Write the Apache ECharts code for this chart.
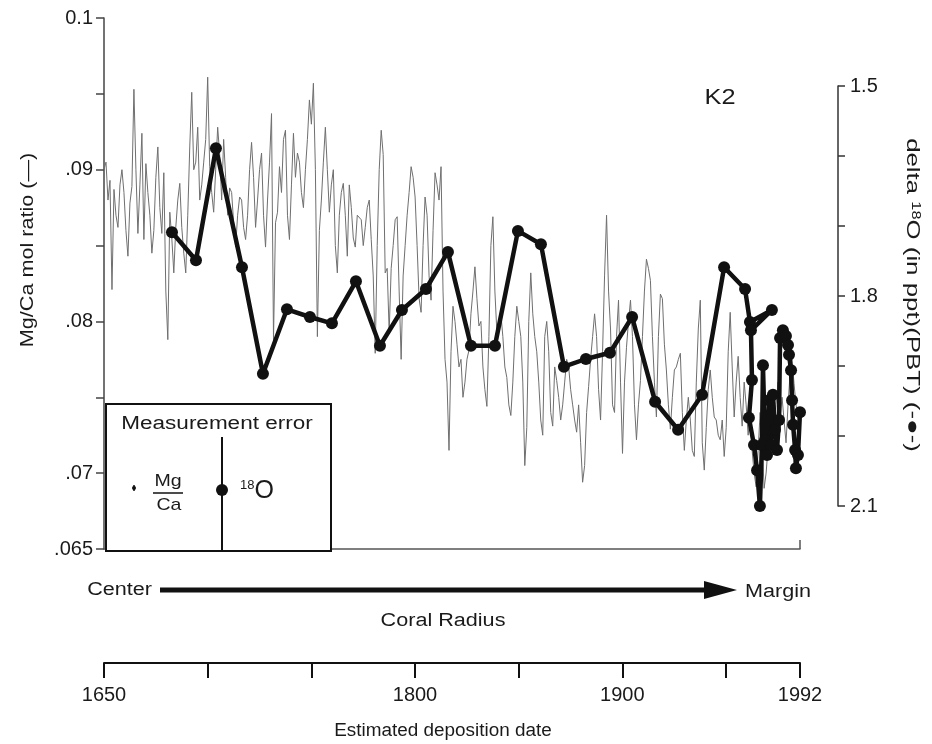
<!DOCTYPE html>
<html>
<head>
<meta charset="utf-8">
<title>K2 coral: Mg/Ca and delta 18O</title>
<script src="https://cdn.jsdelivr.net/npm/echarts@6.0.0/dist/echarts.min.js"></script>
<style>
  html, body { margin: 0; padding: 0; background: #fff; }
  #main { width: 932px; height: 744px; }
</style>
</head>
<body>
<div id="main"></div>
<script>
// Mg/Ca samples, evenly spaced along the coral radius from 1650 to 1992
var mgStart = 1650, mgEnd = 1992;
var mgValues = [
  .0900, .0905, .0880, .0893, .0821, .0887, .0870, .0862, .0890, .0900,
  .0885, .0860, .0843, .0878, .0889, .0953, .0900, .0858, .0890, .0924,
  .0854, .0904, .0885, .0870, .0845, .0860, .0895, .0915, .0875, .0858,
  .0898, .0820, .0788, .0872, .0855, .0832, .0862, .0880, .0891, .0862,
  .0845, .0832, .0870, .0915, .0951, .0900, .0905, .0928, .0880, .0890,
  .0905, .0920, .0961, .0902, .0885, .0872, .0900, .0928, .0910, .0880, .0920,
  .0895, .0870, .0888, .0885, .0865, .0849, .0870, .0882, .0880, .0862,
  .0854, .0870, .0900, .0918, .0895, .0862, .0880, .0900, .0911, .0870,
  .0849, .0880, .0905, .0937, .0788, .0865, .0872, .0902, .0885, .0920,
  .0926, .0870, .0854, .0890, .0924, .0895, .0911, .0905, .0885, .0875,
  .0900, .0920, .0946, .0930, .0957, .0900, .0790, .0860, .0880, .0905,
  .0928, .0900, .0872, .0890, .0900, .0850, .0832, .0870, .0885, .0891,
  .0870, .0843, .0890, .0875, .0855, .0849, .0870, .0869, .0867, .0850,
  .0862, .0875, .0880, .0854, .0830, .0779, .0850, .0900, .0926, .0910,
  .0832, .0835, .0793, .0835, .0850, .0867, .0869, .0820, .0775, .0830,
  .0850, .0870, .0885, .0902, .0895, .0882, .0850, .0815, .0806, .0850,
  .0882, .0870, .0830, .0814, .0860, .0898, .0890, .0880, .0902, .0820,
  .0775, .0760, .0715, .0780, .0810, .0800, .0785, .0770, .0775, .0750,
  .0760, .0775, .0781, .0805, .0820, .0836, .0815, .0797, .0800, .0770,
  .0755, .0744, .0790, .0850, .0869, .0820, .0793, .0800, .0805, .0790,
  .0770, .0763, .0745, .0738, .0760, .0790, .0810, .0800, .0790, .0760,
  .0705, .0730, .0800, .0832, .0805, .0790, .0780, .0760, .0735, .0725,
  .0790, .0800, .0780, .0740, .0731, .0770, .0761, .0750, .0735, .0745,
  .0760, .0775, .0770, .0755, .0745, .0735, .0727, .0745, .0720, .0694,
  .0705, .0740, .0757, .0775, .0790, .0805, .0790, .0755, .0735, .0780,
  .0830, .0870, .0820, .0795, .0745, .0740, .0790, .0814, .0760, .0713,
  .0760, .0783, .0800, .0814, .0790, .0745, .0722, .0745, .0761, .0790,
  .0820, .0841, .0835, .0827, .0790, .0760, .0737, .0790, .0818, .0815,
  .0785, .0768, .0745, .0729, .0750, .0768, .0770, .0775, .0779, .0740,
  .0715, .0735, .0750, .0735, .0715, .0711, .0760, .0795, .0814, .0720,
  .0702, .0730, .0755, .0768, .0750, .0737, .0735, .0725, .0722, .0735,
  .0711, .0730, .0780, .0806, .0770, .0737, .0760, .0777, .0750, .0731,
  .0760, .0745, .0725, .0740, .0715, .0700, .0691, .0715, .0740, .0720,
  .0690, .0700, .0717, .0740, .0755, .0730, .0745, .0760, .0735, .0750,
  .0735, .0720, .0745, .0765, .0775, .0759, .0745, .0737, .0727
];

// delta 18O samples (in ppt, PBT)
var d18Years = [
  1683.4, 1695.2, 1705.0, 1717.8, 1728.1, 1739.9, 1751.2, 1762.0, 1773.8, 1785.6,
  1796.4, 1808.2, 1819.0, 1830.3, 1842.1, 1853.4, 1864.7, 1876.0, 1886.8, 1898.6,
  1909.5, 1920.8, 1932.1, 1943.9, 1954.7, 1965.0, 1967.4, 1978.2, 1967.9, 1968.4,
  1966.9, 1969.4, 1970.9, 1972.3, 1973.3, 1973.8, 1974.8, 1975.8, 1976.8, 1977.8,
  1978.7, 1979.7, 1980.7, 1981.7, 1982.2, 1983.6, 1985.1, 1986.1, 1986.6, 1987.6,
  1988.1, 1988.6, 1989.6, 1990.0, 1991.0, 1992.0
];
var d18Values = [
  1.709, 1.749, 1.589, 1.759, 1.911, 1.819, 1.830, 1.839, 1.779, 1.871,
  1.820, 1.790, 1.737, 1.871, 1.871, 1.707, 1.726, 1.901, 1.890, 1.881,
  1.830, 1.951, 1.991, 1.941, 1.759, 1.790, 1.837, 1.820, 1.849, 1.920,
  1.974, 2.013, 2.049, 2.100, 2.013, 1.899, 2.006, 2.027, 1.949, 2.013,
  1.941, 1.991, 2.020, 1.977, 1.860, 1.849, 1.857, 1.870, 1.884, 1.906,
  1.949, 1.984, 2.020, 2.046, 2.027, 1.966
];

var mgTickValues = [0.065, 0.07, 0.08, 0.09, 0.1];
var mgTickLabels = ['.065', '.07', '.08', '.09', '0.1'];
var d18TickValues = [1.5, 1.8, 2.1];
// the date scale is drawn in two pieces, as in the original figure
var dateTickLabels = [1650, 1800, 1900];
var dateEndTick = [1992];

var FONT = "'Liberation Sans', Arial, Helvetica, sans-serif";

var mgData = mgValues.map(function(v, i) {
  return [mgStart + i * (mgEnd - mgStart) / (mgValues.length - 1), v];
});
var d18Data = d18Years.map(function(y, i) {
  return [y, d18Values[i]];
});

function pickLabel(values, labels, v) {
  for (var i = 0; i < values.length; i++) {
    if (Math.abs(values[i] - v) < 1e-6) return labels[i];
  }
  return '';
}

function txt(text, x, y, size, extra) {
  var el = {
    type: 'text', x: x, y: y, z: 30,
    style: {
      text: text, fontSize: size, fontFamily: FONT, fill: '#1a1a1a',
      align: 'center', verticalAlign: 'middle'
    }
  };
  if (extra) {
    for (var k in extra) {
      if (k === 'style') {
        for (var s in extra.style) el.style[s] = extra.style[s];
      } else el[k] = extra[k];
    }
  }
  return el;
}

var dateLine = { show: true, onZero: false, lineStyle: { color: '#111', width: 2 } };
var dateLabel = { margin: 22, fontSize: 20, color: '#1a1a1a', fontFamily: FONT };

var option = {
  animation: false,
  backgroundColor: '#fff',
  grid: [
    { left: 104, top: 18, width: 696, height: 531 },
    { left: 104, top: 86, width: 696, height: 420 },
    { left: 104, top: 600, width: 622, height: 63 },
    { left: 726, top: 600, width: 74, height: 63 }
  ],
  xAxis: [
    {
      gridIndex: 0, type: 'value', min: 1650, max: 1992,
      axisLine: { show: true, onZero: false, lineStyle: { color: '#555', width: 1.5 } },
      axisTick: { show: true, inside: true, length: 9, customValues: [1992], lineStyle: { color: '#555', width: 1.5 } },
      axisLabel: { show: false },
      splitLine: { show: false }
    },
    { gridIndex: 1, type: 'value', min: 1650, max: 1992, show: false, splitLine: { show: false } },
    {
      gridIndex: 2, type: 'value', min: 1650, max: 1950, interval: 50,
      axisLine: dateLine,
      axisTick: { show: true, length: 15, lineStyle: { color: '#111', width: 2 } },
      axisLabel: Object.assign({}, dateLabel, {
        showMinLabel: true, showMaxLabel: true,
        formatter: function(v) {
          var r = Math.round(v);
          return dateTickLabels.indexOf(r) >= 0 ? String(r) : '';
        }
      }),
      splitLine: { show: false }
    },
    {
      gridIndex: 3, type: 'value', min: 1950, max: 1992,
      axisLine: dateLine,
      axisTick: { show: true, length: 15, customValues: dateEndTick, lineStyle: { color: '#111', width: 2 } },
      axisLabel: Object.assign({}, dateLabel, {
        customValues: dateEndTick,
        formatter: function(v) { return String(Math.round(v)); }
      }),
      splitLine: { show: false }
    }
  ],
  yAxis: [
    {
      gridIndex: 0, type: 'value', min: 0.065, max: 0.1, interval: 0.005,
      axisLine: { show: true, lineStyle: { color: '#444', width: 1.5 } },
      axisTick: { show: true, length: 8, lineStyle: { color: '#444', width: 1.5 } },
      axisLabel: {
        margin: 11, fontSize: 20, color: '#1a1a1a', fontFamily: FONT,
        formatter: function(v) { return pickLabel(mgTickValues, mgTickLabels, v); }
      },
      splitLine: { show: false }
    },
    {
      gridIndex: 1, type: 'value', position: 'right', offset: 38, inverse: true,
      min: 1.5, max: 2.1, interval: 0.1,
      axisLine: { show: true, lineStyle: { color: '#333', width: 1.5 } },
      axisTick: { show: true, length: 7, lineStyle: { color: '#333', width: 1.5 } },
      axisLabel: {
        margin: 12, fontSize: 20, color: '#1a1a1a', fontFamily: FONT,
        formatter: function(v) {
          var l = pickLabel(d18TickValues, d18TickValues, v);
          return l === '' ? '' : l.toFixed(1);
        }
      },
      splitLine: { show: false }
    },
    { gridIndex: 2, type: 'value', show: false, splitLine: { show: false } },
    { gridIndex: 3, type: 'value', show: false, splitLine: { show: false } }
  ],
  series: [
    {
      name: 'Mg/Ca', type: 'line', xAxisIndex: 0, yAxisIndex: 0,
      data: mgData, showSymbol: false, z: 2,
      lineStyle: { color: '#6f6f6f', width: 1 }
    },
    {
      name: 'delta 18O', type: 'line', xAxisIndex: 1, yAxisIndex: 1,
      data: d18Data, symbol: 'circle', symbolSize: 12, z: 3,
      itemStyle: { color: '#111' },
      lineStyle: { color: '#111', width: 4.5 }
    }
  ],
  graphic: [
    txt('K2', 720, 98, 22, { scaleX: 1.15 }),
    txt('Mg/Ca mol ratio (—)', 28, 250, 18, { rotation: Math.PI / 2, scaleX: 1.2 }),
    txt('delta {s|18}O (in ppt)(PBT) (-●-)', 912, 295, 19, {
      rotation: -Math.PI / 2, scaleX: 1.36,
      style: { rich: { s: { fontSize: 12, fontFamily: FONT, verticalAlign: 'top', fill: '#1a1a1a' } } }
    }),
    // measurement error inset
    {
      type: 'rect', z: 20,
      shape: { x: 106, y: 404, width: 225, height: 147 },
      style: { fill: '#fff', stroke: '#111', lineWidth: 2 }
    },
    txt('Measurement error', 217, 424, 18, { scaleX: 1.25 }),
    { type: 'line', z: 30, shape: { x1: 134, y1: 485, x2: 134, y2: 491 }, style: { stroke: '#111', lineWidth: 1.5 } },
    { type: 'circle', z: 30, shape: { cx: 134, cy: 488, r: 2 }, style: { fill: '#111' } },
    txt('Mg', 168, 481, 17, { scaleX: 1.15 }),
    { type: 'line', z: 30, shape: { x1: 153, y1: 493, x2: 183, y2: 493 }, style: { stroke: '#111', lineWidth: 1.5 } },
    txt('Ca', 169, 505, 17, { scaleX: 1.15 }),
    { type: 'line', z: 30, shape: { x1: 222, y1: 437, x2: 222, y2: 550 }, style: { stroke: '#111', lineWidth: 2 } },
    { type: 'circle', z: 30, shape: { cx: 222, cy: 490, r: 6 }, style: { fill: '#111' } },
    txt('{s|18}{o|O}', 240, 491, 24, {
      style: {
        align: 'left',
        rich: {
          s: { fontSize: 13, fontFamily: FONT, verticalAlign: 'top', fill: '#1a1a1a' },
          o: { fontSize: 25, fontFamily: FONT, fill: '#1a1a1a' }
        }
      }
    }),
    // coral radius arrow
    { type: 'line', z: 30, shape: { x1: 160, y1: 590, x2: 712, y2: 590 }, style: { stroke: '#111', lineWidth: 5 } },
    { type: 'polygon', z: 30, shape: { points: [[704, 581], [737, 590], [704, 599]] }, style: { fill: '#111' } },
    txt('Center', 152, 590, 18, { scaleX: 1.2, style: { align: 'right' } }),
    txt('Margin', 745, 592, 18, { scaleX: 1.2, style: { align: 'left' } }),
    txt('Coral Radius', 443, 621, 18, { scaleX: 1.2 }),
    txt('Estimated deposition date', 443, 731, 18, { scaleX: 1.05 })
  ]
};

var chart = echarts.init(document.getElementById('main'), null, { renderer: 'canvas' });
chart.setOption(option);
</script>
</body>
</html>
